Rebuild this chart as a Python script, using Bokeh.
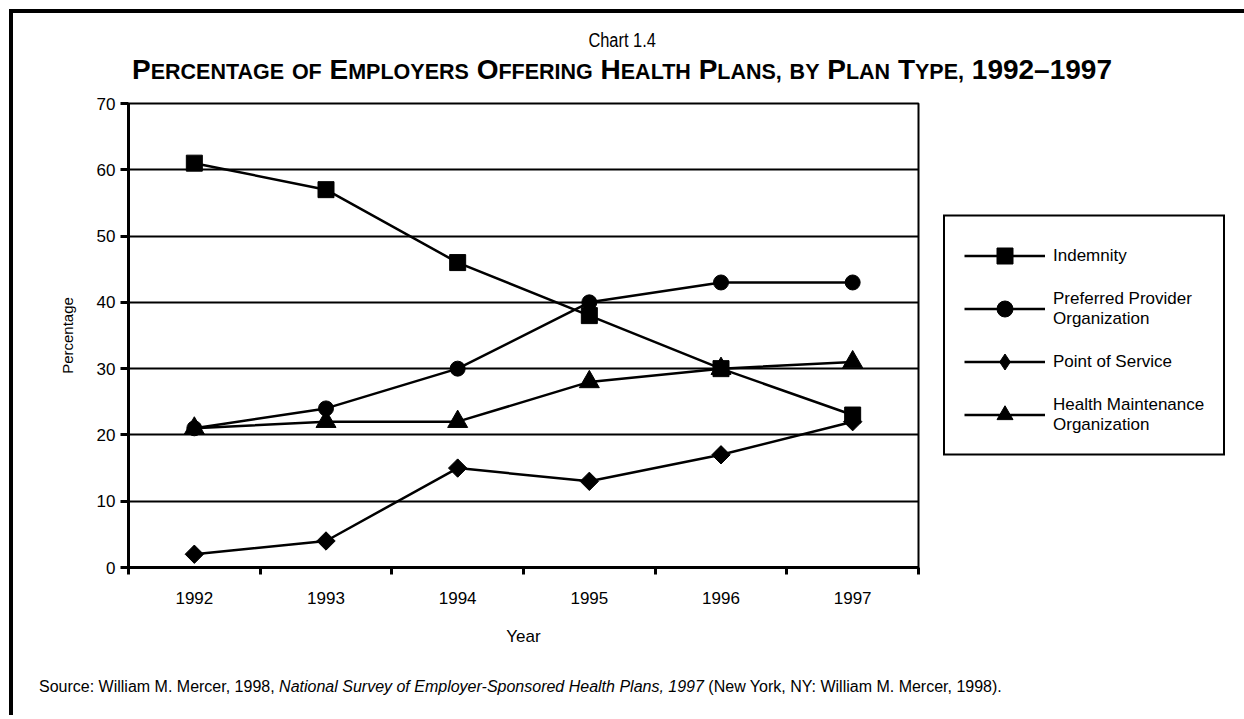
import math

from bokeh.embed import file_html
from bokeh.layouts import column
from bokeh.models import Div, FixedTicker, Legend, LegendItem, Range1d
from bokeh.plotting import figure
from bokeh.resources import INLINE

# ---- data -------------------------------------------------------------
years = ["1992", "1993", "1994", "1995", "1996", "1997"]
indemnity = [61, 57, 46, 38, 30, 23]
ppo = [21, 24, 30, 40, 43, 43]
pos = [2, 4, 15, 13, 17, 22]
hmo = [21, 22, 22, 28, 30, 31]
y_ticks = [0, 10, 20, 30, 40, 50, 60, 70]

series_names = [
    "Indemnity",
    "Preferred Provider\nOrganization",
    "Point of Service",
    "Health Maintenance\nOrganization",
]

chart_number = "Chart 1.4"
chart_title = "Percentage of Employers Offering Health Plans, by Plan Type, 1992\u20131997"
small_words = {"of", "by"}

FONT = "Liberation Sans"
INK = "#000000"

# one slot per year; the year sits in the middle of its slot
x = [i + 0.5 for i in range(len(years))]
slot_edges = list(range(len(years) + 1))

p = figure(
    frame_width=790,
    frame_height=464,
    x_range=Range1d(0, len(years)),
    y_range=Range1d(0, 70),
    output_backend="svg",
    toolbar_location=None,
    min_border_left=115,
    min_border_top=11,
    min_border_bottom=98,
    min_border_right=300,
    background_fill_color="white",
    border_fill_color="white",
)

p.outline_line_color = INK
p.outline_line_width = 2

# horizontal rules
p.xgrid.visible = False
p.ygrid.ticker = FixedTicker(ticks=y_ticks)
p.ygrid.grid_line_color = INK
p.ygrid.grid_line_width = 2

# y axis
p.yaxis.ticker = FixedTicker(ticks=y_ticks)
p.yaxis.axis_line_width = 3
p.yaxis.axis_line_color = INK
p.yaxis.major_tick_line_width = 3
p.yaxis.major_tick_line_color = INK
p.yaxis.major_tick_out = 8
p.yaxis.major_tick_in = 0
p.yaxis.minor_tick_line_color = None
p.yaxis.major_label_standoff = 5
p.yaxis.major_label_text_font = FONT
p.yaxis.major_label_text_font_size = "17px"
p.yaxis.major_label_text_color = INK
p.yaxis.axis_label = "Percentage"
p.yaxis.axis_label_text_font = FONT
p.yaxis.axis_label_text_font_size = "15px"
p.yaxis.axis_label_text_font_style = "normal"
p.yaxis.axis_label_text_color = INK
p.yaxis.axis_label_standoff = 18

# x axis: labels centred in each slot, tick marks on the slot edges
p.xaxis.ticker = FixedTicker(ticks=x, minor_ticks=slot_edges)
p.xaxis.major_label_overrides = {xi: yr for xi, yr in zip(x, years)}
p.xaxis.axis_line_width = 3
p.xaxis.axis_line_color = INK
p.xaxis.major_tick_line_color = None
p.xaxis.major_tick_out = 0
p.xaxis.major_tick_in = 0
p.xaxis.minor_tick_line_color = INK
p.xaxis.minor_tick_line_width = 3
p.xaxis.minor_tick_out = 7
p.xaxis.minor_tick_in = 0
p.xaxis.major_label_standoff = 17
p.xaxis.major_label_text_font = FONT
p.xaxis.major_label_text_font_size = "17px"
p.xaxis.major_label_text_color = INK
p.xaxis.axis_label = "Year"
p.xaxis.axis_label_text_font = FONT
p.xaxis.axis_label_text_font_size = "17px"
p.xaxis.axis_label_text_font_style = "normal"
p.xaxis.axis_label_text_color = INK
p.xaxis.axis_label_standoff = 20

# ---- series -------------------------------------------------------------
# (values, marker drawn on the chart, marker used for the legend swatch)
styles = [
    (indemnity, dict(marker="square", size=16, angle=0), None),
    (ppo, dict(marker="circle", size=15, angle=0), None),
    (pos, dict(marker="square", size=13, angle=math.pi / 4), dict(marker="diamond", size=17)),
    (hmo, dict(marker="triangle", size=20, angle=0), None),
]

items = []
for name, (vals, mk, swatch) in zip(series_names, styles):
    ln = p.line(x, vals, line_color=INK, line_width=2.5)
    renderers = [ln]
    if swatch is not None:
        # an upright diamond tucked inside each turned square, so the legend
        # swatch shows a diamond (legend swatches ignore marker angles)
        renderers.append(p.scatter(x, vals, marker=swatch["marker"], size=swatch["size"],
                                   fill_color=INK, line_color=INK))
    sc = p.scatter(x, vals, marker=mk["marker"], size=mk["size"], angle=mk["angle"],
                   fill_color=INK, line_color=INK)
    if swatch is None:
        renderers.append(sc)
    items.append(LegendItem(label=name, renderers=renderers))

legend = Legend(
    items=items,
    location="center_left",
    orientation="vertical",
    border_line_color=INK,
    border_line_alpha=1.0,
    border_line_width=2.5,
    background_fill_color="white",
    background_fill_alpha=1.0,
    padding=19,
    spacing=13,
    margin=25,
    glyph_width=81,
    glyph_height=40,
    label_height=40,
    label_standoff=8,
    label_text_font=FONT,
    label_text_font_size="17px",
    label_text_line_height=1.25,
    label_text_color=INK,
)
p.add_layout(legend, "right")


# ---- heading and source note -------------------------------------------
def small_caps(text, small_px):
    """Caps-and-small-caps markup: initial capitals and digits large, the rest small."""
    out = []
    for word in text.split(" "):
        if word in small_words:
            out.append(f'<span style="font-size:{small_px}px">{word.upper()}</span>')
        elif word[0].isdigit():
            out.append(word)
        else:
            out.append(word[0] + f'<span style="font-size:{small_px}px">{word[1:].upper()}</span>')
    return " ".join(out)


heading = Div(
    text=(
        '<div style="position:relative;width:1218px;height:79px;">'
        '<div style="position:absolute;left:0;top:17px;width:1218px;text-align:center;'
        "font:20px/1 'Liberation Sans',sans-serif;color:#000;\">"
        f'<span style="display:inline-block;transform:scaleX(0.82);">{chart_number}</span></div>'
        '<div style="position:absolute;left:0;top:43px;width:1218px;text-align:center;white-space:nowrap;'
        "font:bold 28px/1 'Liberation Sans',sans-serif;color:#000;\">"
        f"{small_caps(chart_title, 21.5)}</div>"
        "</div>"
    ),
    width=1231,
    height=79,
    margin=0,
)

source = Div(
    text=(
        '<div style="position:relative;width:1231px;height:50px;">'
        '<div style="position:absolute;left:26px;top:14px;white-space:nowrap;'
        "font:16px/1 'Liberation Sans',sans-serif;color:#000;\">"
        "Source: William M. Mercer, 1998, <i>National Survey of Employer-Sponsored "
        "Health Plans, 1997</i> (New York, NY: William M. Mercer, 1998).</div>"
        "</div>"
    ),
    width=1231,
    height=50,
    margin=0,
)

root = column(
    heading,
    p,
    source,
    margin=(9, 0, 0, 9),
    styles={"border-top": "4px solid #000", "border-left": "4px solid #000"},
)

open("out.html", "w").write(file_html(root, INLINE))
